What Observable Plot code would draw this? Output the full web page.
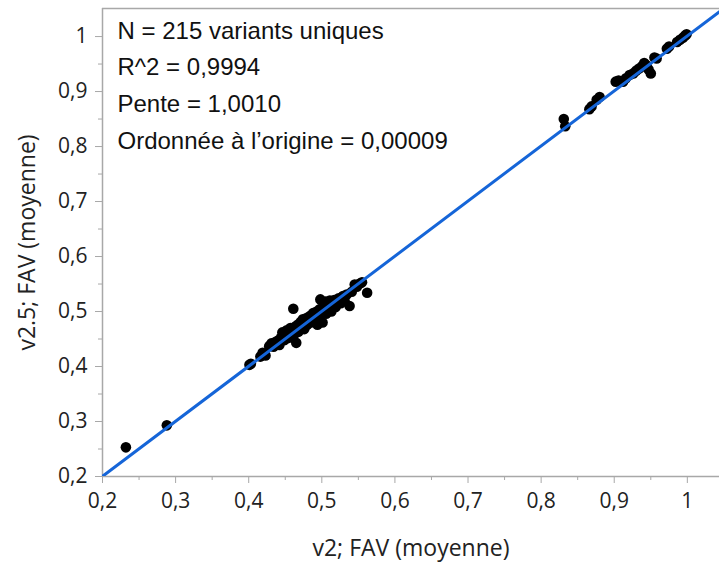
<!DOCTYPE html>
<html><head><meta charset="utf-8">
<script src="https://cdn.jsdelivr.net/npm/d3@7"></script>
<script src="https://cdn.jsdelivr.net/npm/@observablehq/plot@0.6"></script>
<style>body{margin:0;background:#fff}</style>
</head><body><div id="chart"></div>
<script>
// v2 mean VAF (x) and v2.5 mean VAF (y)
const v2 = [
  0.232, 0.288,
  0.401, 0.403, 0.416, 0.419, 0.423, 0.428, 0.431, 0.434, 0.437, 0.440, 0.442, 0.444, 0.446, 0.448,
  0.449, 0.451, 0.452, 0.454, 0.456, 0.457, 0.459, 0.461, 0.465, 0.462, 0.463, 0.465, 0.467, 0.468,
  0.470, 0.471, 0.473, 0.474, 0.476, 0.477, 0.479, 0.480, 0.482, 0.484, 0.485, 0.487, 0.488, 0.490,
  0.491, 0.493, 0.494, 0.495, 0.497, 0.498, 0.499, 0.501, 0.502, 0.503, 0.505, 0.506, 0.508, 0.510,
  0.511, 0.513, 0.515, 0.517, 0.519, 0.521, 0.523, 0.526, 0.529, 0.531, 0.534, 0.538, 0.541, 0.545,
  0.548, 0.552, 0.555, 0.562,
  0.831, 0.833, 0.866, 0.869, 0.876, 0.880, 0.902, 0.906, 0.912, 0.916, 0.921, 0.926, 0.930, 0.934,
  0.938, 0.941, 0.944, 0.947, 0.950, 0.955, 0.958, 0.972, 0.975, 0.986, 0.990, 0.994, 0.997, 0.999
];
const v25 = [
  0.253, 0.293,
  0.403, 0.405, 0.418, 0.425, 0.420, 0.437, 0.442, 0.436, 0.445, 0.447, 0.439, 0.452, 0.462, 0.455,
  0.448, 0.458, 0.466, 0.452, 0.461, 0.470, 0.465, 0.505, 0.443, 0.458, 0.472, 0.467, 0.476, 0.463,
  0.470, 0.481, 0.474, 0.486, 0.468, 0.479, 0.488, 0.476, 0.484, 0.492, 0.480, 0.488, 0.497, 0.484,
  0.492, 0.500, 0.476, 0.490, 0.504, 0.522, 0.495, 0.480, 0.509, 0.500, 0.518, 0.496, 0.512, 0.505,
  0.520, 0.500, 0.514, 0.521, 0.508, 0.518, 0.524, 0.515, 0.528, 0.520, 0.531, 0.510, 0.536, 0.549,
  0.545, 0.551, 0.553, 0.534,
  0.850, 0.837, 0.868, 0.873, 0.885, 0.890, 0.918, 0.920, 0.918, 0.924, 0.930, 0.933, 0.938, 0.942,
  0.946, 0.952, 0.948, 0.940, 0.933, 0.962, 0.960, 0.978, 0.982, 0.990, 0.994, 0.998, 1.002, 1.004
];
const slope = 1.0010;
const intercept = 0.00009;
const majorTicks = [0.2, 0.3, 0.4, 0.5, 0.6, 0.7, 0.8, 0.9, 1];
const minorTicks = [0.25, 0.35, 0.45, 0.55, 0.65, 0.75, 0.85, 0.95];
const annotation = [
  "N = 215 variants uniques",
  "R^2 = 0,9994",
  "Pente = 1,0010",
  "Ordonnée à l\u2019origine = 0,00009"
];
const xTitle = "v2; FAV (moyenne)";
const yTitle = "v2.5; FAV (moyenne)";

const xDomain = [0.2, 1.044];
const yDomain = [0.2, 1.051];
const points = v2.map((x, i) => ({x, y: v25[i]}));
const fitLine = xDomain.map(x => ({x, y: slope * x + intercept}));
const fmt = d => d === 1 ? "1" : d3.format(".1f")(d).replace(".", ",");
const axisColor = "#a8a8a8";

const chart = Plot.plot({
  width: 719, height: 562,
  marginLeft: 102, marginRight: 0, marginTop: 8, marginBottom: 86,
  style: {fontFamily: "'Open Sans', sans-serif", background: "#fff", color: "#222"},
  x: {domain: xDomain},
  y: {domain: yDomain},
  marks: [
    Plot.ruleY([yDomain[1]], {stroke: axisColor, strokeWidth: 1.5}),
    Plot.ruleX([xDomain[0]], {stroke: axisColor, strokeWidth: 1.5}),
    Plot.ruleY([yDomain[0]], {stroke: axisColor, strokeWidth: 1.5}),
    Plot.axisX(minorTicks, {tickSize: 4, text: null, stroke: axisColor, label: null}),
    Plot.axisY(minorTicks, {tickSize: 4, text: null, stroke: axisColor, label: null}),
    Plot.axisX(majorTicks, {tickSize: 7, tickPadding: 10, tickFormat: fmt, fontSize: 21, fill: "#222", stroke: axisColor, label: null}),
    Plot.axisY(majorTicks, {tickSize: 7, tickPadding: 8, tickFormat: fmt, fontSize: 21, fill: "#222", stroke: axisColor, label: null}),
    Plot.text([xTitle], {frameAnchor: "bottom", dy: 72, lineAnchor: "middle", textAnchor: "middle", fontSize: 23, fill: "#222"}),
    Plot.text([yTitle], {frameAnchor: "left", dx: -75, rotate: -90, lineAnchor: "middle", textAnchor: "middle", fontSize: 23, fill: "#222"}),
    Plot.dot(points, {x: "x", y: "y", r: 5.3, fill: "#000", stroke: null}),
    Plot.line(fitLine, {x: "x", y: "y", stroke: "#1565d8", strokeWidth: 3, clip: true}),
    Plot.text([annotation.join("\n")], {frameAnchor: "top-left", dx: 15, dy: 4, lineHeight: 1.53, fontSize: 24,
      fontFamily: "'Liberation Sans', Arial, sans-serif", textAnchor: "start", fill: "#111", ariaLabel: "annotation"})
  ]
});
d3.select(chart).selectAll("g[aria-label='annotation'] text").style("letter-spacing", "1px");
document.getElementById("chart").appendChild(chart);
</script>
</body></html>
